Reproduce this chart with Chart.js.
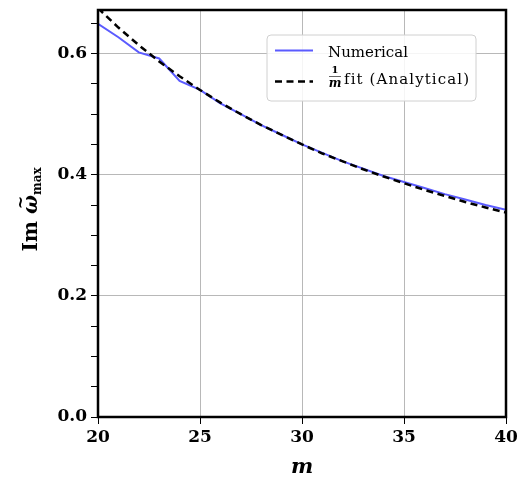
<!DOCTYPE html>
<html>
<head>
<meta charset="utf-8">
<script src="https://cdn.jsdelivr.net/npm/chart.js@4.4.1/dist/chart.umd.min.js"></script>
<style>
html,body{margin:0;padding:0;background:#fff;}
#wrap{position:relative;width:529px;height:477px;}
</style>
</head>
<body>
<div id="wrap"><canvas id="c" width="529" height="477"></canvas></div>
<script>
// ---- data ----
const mValues = [20,21,22,23,24,25,26,27,28,29,30,31,32,33,34,35,36,37,38,39,40];
const numerical = [0.649,0.627,0.602,0.592,0.555,0.540,0.518,0.500,0.482,0.466,0.450,0.436,0.422,0.410,0.398,0.388,0.378,0.368,0.359,0.350,0.342];
const analytical = [0.675,0.643,0.614,0.587,0.5625,0.540,0.519,0.500,0.482,0.466,0.450,0.435,0.422,0.409,0.397,0.386,0.375,0.365,0.355,0.346,0.3375];
const xTickValues = [20,25,30,35,40];
const yMajorLabels = [0.0,0.2,0.4,0.6];
const legendLabels = ["Numerical", "fit (Analytical)"];

const SERIF = '"DejaVu Serif", "Liberation Serif", serif';
const BLUE = '#5b5bff';

function isMajorY(v){ return yMajorLabels.some(t => Math.abs(t - v) < 1e-6); }

const framePlugin = {
  id: 'frame',
  afterDraw(chart){
    const ctx = chart.ctx, a = chart.chartArea;
    ctx.save();
    ctx.strokeStyle = '#000';
    ctx.lineWidth = 2.5;
    ctx.strokeRect(a.left, a.top, a.right - a.left, a.bottom - a.top);
    ctx.restore();

    // y-axis title: Im ω̃_max
    ctx.save();
    ctx.translate(37, (a.top + a.bottom)/2 - 4);
    ctx.rotate(-Math.PI/2);
    ctx.fillStyle = '#000';
    ctx.textBaseline = 'alphabetic';
    ctx.textAlign = 'left';
    const p1 = 'Im ', p2 = '\u03C9', p3 = 'max';
    ctx.font = 'bold 20px ' + SERIF;
    const w1 = ctx.measureText(p1).width;
    ctx.font = 'italic bold 20px ' + SERIF;
    const w2 = ctx.measureText(p2).width;
    ctx.font = 'bold 12px ' + SERIF;
    const w3 = ctx.measureText(p3).width;
    let x = -(w1 + w2 + w3)/2;
    ctx.font = 'bold 20px ' + SERIF;
    ctx.fillText(p1, x, 0); x += w1;
    ctx.font = 'italic bold 20px ' + SERIF;
    ctx.fillText(p2, x, 0);
    ctx.font = 'bold 16px ' + SERIF;
    ctx.textAlign = 'center';
    ctx.fillText('~', x + w2/2 + 2, -11);
    ctx.textAlign = 'left';
    x += w2;
    ctx.font = 'bold 12px ' + SERIF;
    ctx.fillText(p3, x, 4);
    ctx.restore();

    // legend
    ctx.save();
    const bx = 267, by = 35, bw = 209, bh = 66, r = 4;
    ctx.beginPath();
    ctx.moveTo(bx + r, by);
    ctx.lineTo(bx + bw - r, by); ctx.quadraticCurveTo(bx + bw, by, bx + bw, by + r);
    ctx.lineTo(bx + bw, by + bh - r); ctx.quadraticCurveTo(bx + bw, by + bh, bx + bw - r, by + bh);
    ctx.lineTo(bx + r, by + bh); ctx.quadraticCurveTo(bx, by + bh, bx, by + bh - r);
    ctx.lineTo(bx, by + r); ctx.quadraticCurveTo(bx, by, bx + r, by);
    ctx.closePath();
    ctx.fillStyle = 'rgba(255,255,255,0.85)';
    ctx.fill();
    ctx.strokeStyle = '#d0d0d0';
    ctx.lineWidth = 1;
    ctx.stroke();

    ctx.lineWidth = 2;
    ctx.strokeStyle = BLUE;
    ctx.beginPath(); ctx.moveTo(275, 50.5); ctx.lineTo(313, 50.5); ctx.stroke();
    ctx.lineWidth = 2.5;
    ctx.strokeStyle = '#000';
    ctx.setLineDash([7,4.5]);
    ctx.beginPath(); ctx.moveTo(275, 81.5); ctx.lineTo(313, 81.5); ctx.stroke();
    ctx.setLineDash([]);

    ctx.fillStyle = '#000';
    ctx.textBaseline = 'alphabetic';
    ctx.textAlign = 'left';
    ctx.font = '15px ' + SERIF;
    ctx.fillText(legendLabels[0], 328, 57);
    ctx.font = 'bold 10px ' + SERIF;
    ctx.textAlign = 'center';
    ctx.fillText('1', 335, 73);
    ctx.font = 'italic bold 12px ' + SERIF;
    ctx.fillText('m', 335, 87);
    ctx.lineWidth = 0.6;
    ctx.beginPath(); ctx.moveTo(329, 76.5); ctx.lineTo(341, 76.5); ctx.stroke();
    ctx.textAlign = 'left';
    ctx.font = '15px ' + SERIF;
    try { ctx.letterSpacing = '1.1px'; } catch(e) {}
    ctx.fillText(legendLabels[1], 344, 84);
    try { ctx.letterSpacing = '0px'; } catch(e) {}
    ctx.restore();
  }
};

new Chart(document.getElementById('c'), {
  type: 'line',
  data: {
    datasets: [
      {
        label: '1/m fit (Analytical)',
        data: mValues.map((m,i) => ({x: m, y: analytical[i]})),
        borderColor: '#000',
        borderWidth: 2.5,
        borderDash: [7,4.5],
        pointRadius: 0,
        tension: 0,
        fill: false
      },
      {
        label: 'Numerical',
        data: mValues.map((m,i) => ({x: m, y: numerical[i]})),
        borderColor: BLUE,
        borderWidth: 2,
        pointRadius: 0,
        tension: 0,
        fill: false
      }
    ]
  },
  options: {
    responsive: false,
    animation: false,
    devicePixelRatio: 1,
    layout: { padding: { left: 0, right: 23, top: 10, bottom: 0 } },
    plugins: { legend: { display: false }, tooltip: { enabled: false } },
    scales: {
      x: {
        type: 'linear',
        min: 20, max: 40,
        afterFit(s){ s.height = 60; s.paddingLeft = 0; s.paddingRight = 0; },
        afterBuildTicks(s){ s.ticks = xTickValues.map(v => ({value: v})); },
        border: { display: false },
        grid: { color: '#b8b8b8', lineWidth: 1, tickColor: '#000', tickLength: 7, drawTicks: true },
        ticks: {
          color: '#000', padding: 3, autoSkip: false, maxRotation: 0,
          font: { family: SERIF, size: 17, weight: 'bold' },
          callback: v => String(v)
        },
        title: {
          display: true, text: 'm', color: '#000',
          font: { family: SERIF, size: 21, weight: 'bold', style: 'italic', lineHeight: 0.9 },
          padding: { top: 0, bottom: 0 }
        }
      },
      y: {
        type: 'linear',
        min: 0, max: 0.672,
        afterFit(s){ s.width = 98; s.paddingTop = 0; s.paddingBottom = 0; },
        border: { display: false },
        grid: {
          color: c => isMajorY(c.tick.value) ? '#b8b8b8' : 'rgba(0,0,0,0)',
          lineWidth: 1, tickColor: '#000', tickLength: 7, drawTicks: true
        },
        ticks: {
          stepSize: 0.05, includeBounds: false, autoSkip: false,
          color: '#000', padding: 4,
          font: { family: SERIF, size: 17, weight: 'bold' },
          callback: v => isMajorY(v) ? v.toFixed(1) : ''
        }
      }
    }
  },
  plugins: [framePlugin]
});
</script>
</body>
</html>
